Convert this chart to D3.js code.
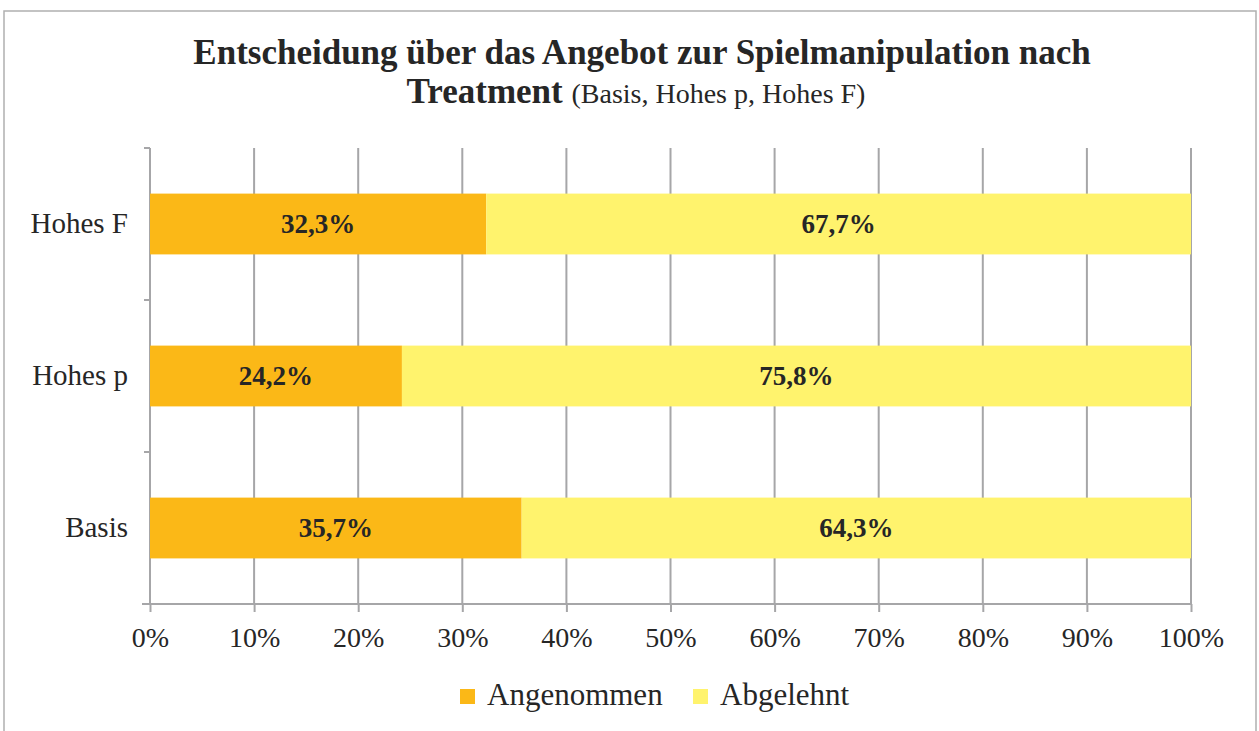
<!DOCTYPE html>
<html>
<head>
<meta charset="utf-8">
<script src="https://cdn.jsdelivr.net/npm/d3@7.9.0/dist/d3.min.js"></script>
<style>
  body { margin: 0; background: #fff; }
  svg { display: block; font-family: "Liberation Serif", "DejaVu Serif", serif; }
</style>
</head>
<body>
<svg id="chart" width="1259" height="731"></svg>
<script>
// data (top to bottom)
const categories = ['Hohes F', 'Hohes p', 'Basis'];
const angenommen = [32.3, 24.2, 35.7];
const abgelehnt = [67.7, 75.8, 64.3];
const seriesNames = ['Angenommen', 'Abgelehnt'];
const xTicks = [0, 10, 20, 30, 40, 50, 60, 70, 80, 90, 100];

const colors = { Angenommen: '#fbb817', Abgelehnt: '#fff36d' };
const gridColor = '#a6a6a8';
const textColor = '#262626';

const svg = d3.select('#chart');

// chart frame
svg.append('path')
  .attr('d', 'M4,740 L4,11 L1256,11 L1256,740')
  .attr('fill', 'none')
  .attr('stroke', '#b0b0b0')
  .attr('stroke-width', 1.5);

// title
svg.append('text')
  .attr('x', 642).attr('y', 64)
  .attr('text-anchor', 'middle')
  .style('font-weight', 'bold')
  .style('font-size', '35px')
  .attr('fill', textColor)
  .text('Entscheidung über das Angebot zur Spielmanipulation nach');

const t2 = svg.append('text')
  .attr('x', 636).attr('y', 103)
  .attr('text-anchor', 'middle')
  .attr('fill', textColor);
t2.append('tspan').style('font-weight', 'bold').style('font-size', '35px').text('Treatment ');
t2.append('tspan').style('font-size', '28px').text('(Basis, Hohes p, Hohes F)');

const plotL = 150, plotR = 1191, plotT = 148, plotB = 604;

const x = d3.scaleLinear().domain([0, 100]).range([plotL, plotR]);
const y = d3.scaleBand().domain(categories).range([plotT, plotB])
  .paddingInner(0.6).paddingOuter(0.3);

// vertical gridlines
svg.append('g')
  .selectAll('line')
  .data(xTicks)
  .join('line')
  .attr('x1', d => x(d)).attr('x2', d => x(d))
  .attr('y1', plotT).attr('y2', plotB)
  .attr('stroke', gridColor)
  .attr('stroke-width', 2);

// x axis
const xAxis = svg.append('g')
  .attr('transform', `translate(0,${plotB})`)
  .call(d3.axisBottom(x).tickValues(xTicks).tickSize(8).tickPadding(15).tickFormat(d => d + '%'));
xAxis.select('.domain').remove();
xAxis.append('line')
  .attr('x1', plotL - 8).attr('x2', plotR)
  .attr('stroke', gridColor).attr('stroke-width', 2);
xAxis.selectAll('.tick line').attr('stroke', gridColor).attr('stroke-width', 2);
xAxis.selectAll('.tick text')
  .attr('fill', textColor)
  .style('font-family', '"Liberation Serif", serif')
  .style('font-size', '28px');

// y axis: ticks at band boundaries
const bounds = [plotT, ...categories.map(c => y(c) + y.bandwidth() / 2 + y.step() / 2)];
svg.append('g')
  .selectAll('line')
  .data(bounds)
  .join('line')
  .attr('x1', plotL - 6).attr('x2', plotL)
  .attr('y1', d => d).attr('y2', d => d)
  .attr('stroke', gridColor).attr('stroke-width', 2);
svg.append('line')
  .attr('x1', plotL).attr('x2', plotL)
  .attr('y1', plotT).attr('y2', plotB)
  .attr('stroke', gridColor).attr('stroke-width', 2);

const yAxis = svg.append('g')
  .attr('transform', `translate(${plotL},0)`)
  .call(d3.axisLeft(y).tickSize(0).tickPadding(22));
yAxis.select('.domain').remove();
yAxis.selectAll('.tick text')
  .attr('fill', textColor)
  .style('font-family', '"Liberation Serif", serif')
  .style('font-size', '29px');

// stacked bars
const rows = categories.map((c, i) => ({ cat: c, Angenommen: angenommen[i], Abgelehnt: abgelehnt[i] }));
const stacked = d3.stack().keys(seriesNames)(rows);

const layers = svg.append('g')
  .selectAll('g')
  .data(stacked)
  .join('g')
  .attr('fill', d => colors[d.key]);

layers.selectAll('rect')
  .data(d => d)
  .join('rect')
  .attr('x', d => x(d[0]))
  .attr('width', d => x(d[1]) - x(d[0]))
  .attr('y', d => y(d.data.cat))
  .attr('height', y.bandwidth());

// data labels
layers.selectAll('text')
  .data(d => d)
  .join('text')
  .attr('x', d => (x(d[0]) + x(d[1])) / 2)
  .attr('y', d => y(d.data.cat) + y.bandwidth() / 2)
  .attr('dy', '0.35em')
  .attr('text-anchor', 'middle')
  .attr('fill', textColor)
  .style('font-weight', 'bold')
  .style('font-size', '27px')
  .text(d => (d[1] - d[0]).toFixed(1).replace('.', ',') + '%');

// legend
const legendX = [460, 693];
const legend = svg.append('g')
  .selectAll('g')
  .data(seriesNames)
  .join('g')
  .attr('transform', (d, i) => `translate(${legendX[i]},689)`);
legend.append('rect')
  .attr('width', 15).attr('height', 15)
  .attr('fill', d => colors[d]);
legend.append('text')
  .attr('x', 27).attr('y', 16)
  .attr('fill', textColor)
  .style('font-size', '31px')
  .text(d => d);
</script>
</body>
</html>
